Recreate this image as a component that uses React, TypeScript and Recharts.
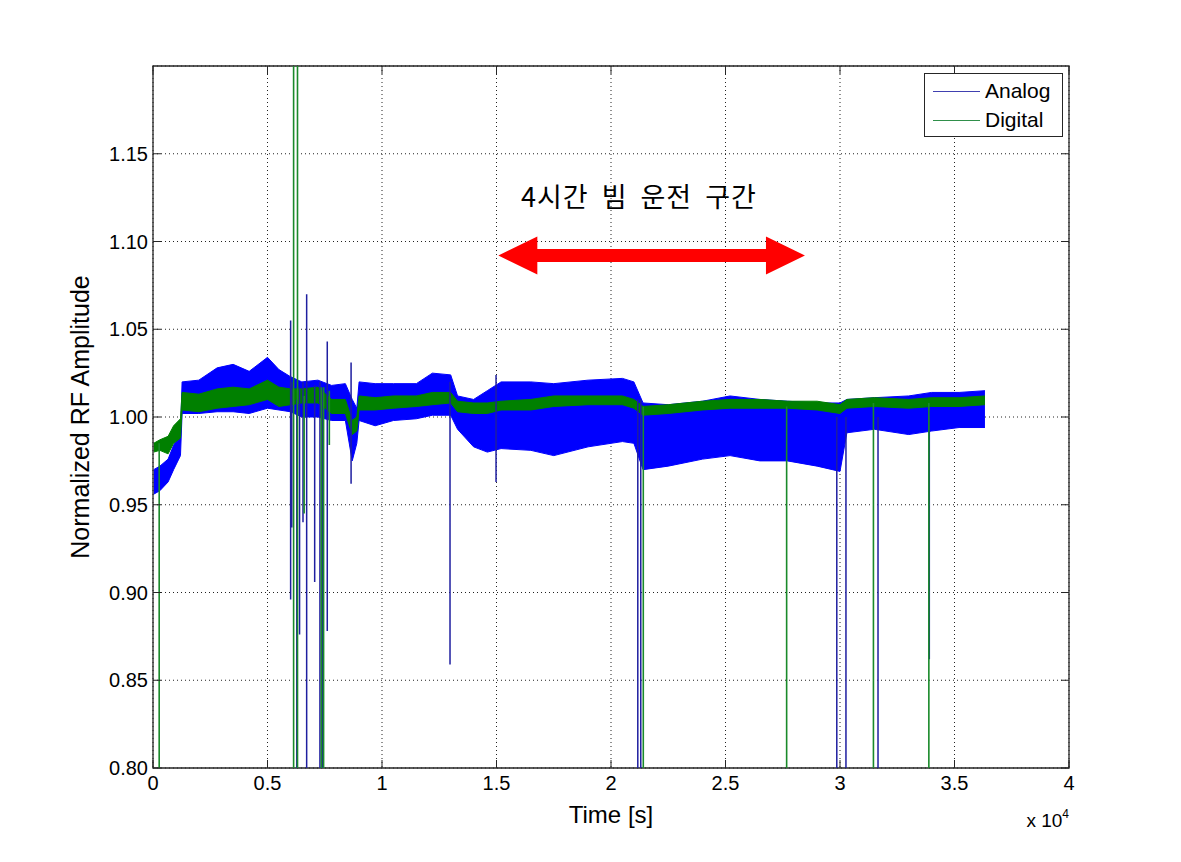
import React from "react";
import {
  ComposedChart,
  Area,
  Line,
  XAxis,
  YAxis,
  CartesianGrid,
  ReferenceArea,
  ReferenceLine,
  ReferenceDot,
  Label,
} from "recharts";

// time is in units of 1e4 s (axis shows "x 10^4")
const bandTime = [
  0.003, 0.03, 0.066, 0.09, 0.12, 0.127, 0.2, 0.28, 0.35, 0.42, 0.5, 0.55, 0.6, 0.65, 0.72, 0.78,
  0.84, 0.87, 0.89, 0.9, 0.97, 1.05, 1.15, 1.22, 1.3, 1.33, 1.4, 1.46, 1.52, 1.65, 1.75, 1.9,
  2.05, 2.1, 2.14, 2.25, 2.4, 2.52, 2.65, 2.77, 2.9, 3.0, 3.03, 3.15, 3.3, 3.4, 3.52, 3.633,
];
const analogLo = [
  0.956, 0.958, 0.963, 0.97, 0.978, 1.002, 1.002, 1.003, 1.003, 1.002, 1.005, 1.004, 1.003, 1.0, 1.0, 0.998,
  0.998, 0.975, 0.985, 0.998, 0.995, 0.998, 0.999, 1.001, 1.001, 0.993, 0.983, 0.98, 0.982, 0.981, 0.978, 0.983,
  0.986, 0.985, 0.97, 0.972, 0.976, 0.978, 0.975, 0.975, 0.972, 0.969, 0.991, 0.993, 0.99, 0.992, 0.994, 0.994,
];
const analogHi = [
  0.97, 0.972, 0.976, 0.984, 0.99, 1.02, 1.021, 1.028, 1.03, 1.026, 1.034, 1.027, 1.023, 1.02, 1.021, 1.018,
  1.019, 1.01, 1.005, 1.02, 1.019, 1.019, 1.019, 1.025, 1.024, 1.012, 1.01, 1.015, 1.02, 1.02, 1.019, 1.021,
  1.022, 1.02, 1.008, 1.007, 1.009, 1.012, 1.01, 1.009, 1.008, 1.008, 1.01, 1.011, 1.012, 1.014, 1.014, 1.015,
];
const digitalLo = [
  0.98, 0.981, 0.979, 0.985, 0.988, 1.004, 1.003, 1.005, 1.006, 1.007, 1.01, 1.006, 1.007, 1.008, 1.008, 1.002,
  1.002, 0.99, 0.992, 1.004, 1.004, 1.005, 1.006, 1.007, 1.008, 1.003, 1.002, 1.002, 1.004, 1.004, 1.006, 1.007,
  1.007, 1.005, 1.001, 1.002, 1.004, 1.005, 1.005, 1.005, 1.004, 1.002, 1.005, 1.006, 1.005, 1.006, 1.006, 1.007,
];
const digitalHi = [
  0.985, 0.987, 0.989, 0.995, 0.999, 1.014, 1.013, 1.016, 1.017, 1.016, 1.021, 1.017, 1.016, 1.016, 1.017, 1.01,
  1.01, 0.998, 1.0, 1.012, 1.011, 1.012, 1.012, 1.014, 1.014, 1.009, 1.008, 1.008, 1.009, 1.01, 1.012, 1.012,
  1.012, 1.01, 1.006, 1.007, 1.009, 1.01, 1.01, 1.009, 1.009, 1.007, 1.01, 1.011, 1.01, 1.011, 1.011, 1.012,
];

// single excursions (dropouts / glitches)
const analogSpikeTime = [0.601, 0.606, 0.628, 0.64, 0.655, 0.671, 0.706, 0.729, 0.74, 0.761, 0.865, 1.297, 1.498, 2.117, 2.13, 2.986, 3.026, 3.166, 3.39];
const analogSpikeLo = [0.896, 0.937, 0.8, 0.876, 0.94, 0.8, 0.906, 0.8, 0.8, 0.878, 0.962, 0.859, 0.963, 0.8, 0.8, 0.8, 0.8, 0.8, 0.862];
const analogSpikeHi = [1.055, 1.02, 1.01, 1.017, 1.02, 1.07, 1.018, 1.02, 1.015, 1.043, 1.031, 1.02, 1.024, 1.01, 1.01, 1.0, 1.0, 1.0, 1.0];
const digitalSpikeTime = [0.027, 0.614, 0.631, 0.66, 0.735, 0.745, 0.77, 2.141, 2.767, 3.146, 3.388];
const digitalSpikeLo = [0.8, 0.8, 0.8, 0.945, 0.8, 0.8, 0.984, 0.8, 0.8, 0.8, 0.8];
const digitalSpikeHi = [0.985, 1.2, 1.2, 1.012, 1.017, 1.017, 1.015, 1.006, 1.006, 1.008, 1.008];

const xTicks = [0, 0.5, 1, 1.5, 2, 2.5, 3, 3.5, 4];
const yTicks = [0.8, 0.85, 0.9, 0.95, 1.0, 1.05, 1.1, 1.15];

const annotationText = "4시간 빔 운전 구간";
const annotationAt = { x: 2.122, y: 1.1252 };
const arrowFrom = { x: 1.508, y: 1.092 };
const arrowTo = { x: 2.847, y: 1.092 };

const bandData = bandTime.map((t, i) => ({
  t,
  analog: [analogLo[i], analogHi[i]],
  digital: [digitalLo[i], digitalHi[i]],
}));

const toSegments = (ts: number[], lo: number[], hi: number[]) =>
  ts.flatMap((t, i) => [
    { t, v: lo[i] },
    { t, v: hi[i] },
    { t, v: null },
  ]);

const analogSpikes = toSegments(analogSpikeTime, analogSpikeLo, analogSpikeHi);
const digitalSpikes = toSegments(digitalSpikeTime, digitalSpikeLo, digitalSpikeHi);

const W = 1181;
const H = 862;
const PLOT = { left: 153, top: 66, right: 1069, bottom: 768 };
const AXIS = "#262626";
const FONT = "'Liberation Sans', Arial, Helvetica, sans-serif";

const XTick = (props: any) => {
  const { x, y, payload } = props;
  return (
    <g>
      <line x1={x} x2={x} y1={PLOT.bottom} y2={PLOT.bottom - 8} stroke={AXIS} />
      <line x1={x} x2={x} y1={PLOT.top} y2={PLOT.top + 8} stroke={AXIS} />
      <text x={x} y={y} dy="0.71em" textAnchor="middle" fontSize={20} fill="#000">
        {payload.value}
      </text>
    </g>
  );
};

const YTick = (props: any) => {
  const { x, y, payload } = props;
  return (
    <g>
      <line x1={PLOT.left} x2={PLOT.left + 8} y1={y} y2={y} stroke={AXIS} />
      <line x1={PLOT.right} x2={PLOT.right - 8} y1={y} y2={y} stroke={AXIS} />
      <text x={x} y={y} dy="0.36em" textAnchor="end" fontSize={20} fill="#000">
        {Number(payload.value).toFixed(2)}
      </text>
    </g>
  );
};

const DoubleArrow = (props: any) => {
  const { x1, y1, x2 } = props;
  const head = 39;
  const half = 19;
  const shaft = 6.5;
  const y = y1;
  const pts = [
    [x1, y],
    [x1 + head, y - half],
    [x1 + head, y - shaft],
    [x2 - head, y - shaft],
    [x2 - head, y - half],
    [x2, y],
    [x2 - head, y + half],
    [x2 - head, y + shaft],
    [x1 + head, y + shaft],
    [x1 + head, y + half],
  ];
  return <polygon points={pts.map((p) => p.join(",")).join(" ")} fill="#FF0000" />;
};

const Legend = () => (
  <div
    style={{
      position: "absolute",
      left: 924,
      top: 73,
      width: 137,
      height: 62,
      border: `1px solid ${AXIS}`,
      background: "#fff",
      fontFamily: FONT,
      fontSize: 21,
    }}
  >
    {[
      { name: "Analog", color: "#4040b0" },
      { name: "Digital", color: "#2f8f4a" },
    ].map((s, i) => (
      <div
        key={s.name}
        style={{ position: "absolute", left: 8, top: 4 + i * 29, height: 26, display: "flex", alignItems: "center" }}
      >
        <div style={{ width: 47, height: 1, background: s.color, marginRight: 5 }} />
        <span>{s.name}</span>
      </div>
    ))}
  </div>
);

export default function App() {
  return (
    <div
      style={{
        position: "absolute",
        left: 0,
        top: 0,
        width: W,
        height: H,
        background: "#fff",
        fontFamily: FONT,
      }}
    >
      <ComposedChart
        width={W}
        height={H}
        data={bandData}
        margin={{ top: PLOT.top, right: W - PLOT.right, bottom: H - PLOT.bottom - 30, left: PLOT.left - 60 }}
      >
        <CartesianGrid stroke="#222" strokeDasharray="1 3" strokeWidth={1} />
        <XAxis
          dataKey="t"
          type="number"
          domain={[0, 4]}
          ticks={xTicks}
          interval={0}
          height={30}
          tickSize={0}
          tickMargin={8}
          tick={<XTick />}
          axisLine={false}
          allowDataOverflow
        >
          <Label
            content={(p: any) => {
              const vb = p.viewBox;
              return (
                <g>
                  <text x={vb.x + vb.width / 2} y={vb.y + 55} textAnchor="middle" fontSize={24} fill="#000">
                    Time [s]
                  </text>
                  <text x={vb.x + vb.width} y={vb.y + 59} textAnchor="end" fontSize={19} fill="#000">
                    x 10
                    <tspan dy={-9} fontSize={12}>
                      4
                    </tspan>
                  </text>
                </g>
              );
            }}
          />
        </XAxis>
        <YAxis
          type="number"
          domain={[0.8, 1.2]}
          ticks={yTicks}
          interval={0}
          width={60}
          tickSize={0}
          tickMargin={5}
          tick={<YTick />}
          axisLine={false}
          allowDataOverflow
        >
          <Label
            content={(p: any) => {
              const vb = p.viewBox;
              const cx = vb.x - 4;
              const cy = vb.y + vb.height / 2;
              return (
                <text
                  x={cx}
                  y={cy}
                  transform={`rotate(-90, ${cx}, ${cy})`}
                  textAnchor="middle"
                  fontSize={25}
                  fill="#000"
                >
                  Normalized RF Amplitude
                </text>
              );
            }}
          />
        </YAxis>
        <Area
          type="linear"
          dataKey="analog"
          stroke="#0000FF"
          strokeWidth={1}
          fill="#0000FF"
          fillOpacity={1}
          dot={false}
          activeDot={false}
          isAnimationActive={false}
        />
        <Line
          data={analogSpikes}
          dataKey="v"
          type="linear"
          stroke="#1f1fa0"
          strokeWidth={1.5}
          dot={false}
          activeDot={false}
          connectNulls={false}
          isAnimationActive={false}
        />
        <Area
          type="linear"
          dataKey="digital"
          stroke="#008000"
          strokeWidth={1}
          fill="#008000"
          fillOpacity={1}
          dot={false}
          activeDot={false}
          isAnimationActive={false}
        />
        <Line
          data={digitalSpikes}
          dataKey="v"
          type="linear"
          stroke="#1a8a2a"
          strokeWidth={1.6}
          dot={false}
          activeDot={false}
          connectNulls={false}
          isAnimationActive={false}
        />
        <ReferenceArea x1={0} x2={4} y1={0.8} y2={1.2} fill="none" stroke={AXIS} strokeWidth={1.3} />
        <ReferenceLine segment={[arrowFrom, arrowTo]} shape={DoubleArrow} />
        <ReferenceDot
          x={annotationAt.x}
          y={annotationAt.y}
          r={1}
          fill="none"
          stroke="none"
          label={
            <Label
              content={(p: any) => {
                const vb = p.viewBox;
                return (
                  <text
                    x={vb.x + vb.width / 2}
                    y={vb.y + vb.height / 2}
                    dy="0.36em"
                    textAnchor="middle"
                    fontSize={27}
                    fill="#000"
                    style={{ fontFamily: "'Noto Sans CJK KR', sans-serif", wordSpacing: 6, letterSpacing: 1 }}
                  >
                    {annotationText}
                  </text>
                );
              }}
            />
          }
        />
      </ComposedChart>
      <Legend />
    </div>
  );
}
